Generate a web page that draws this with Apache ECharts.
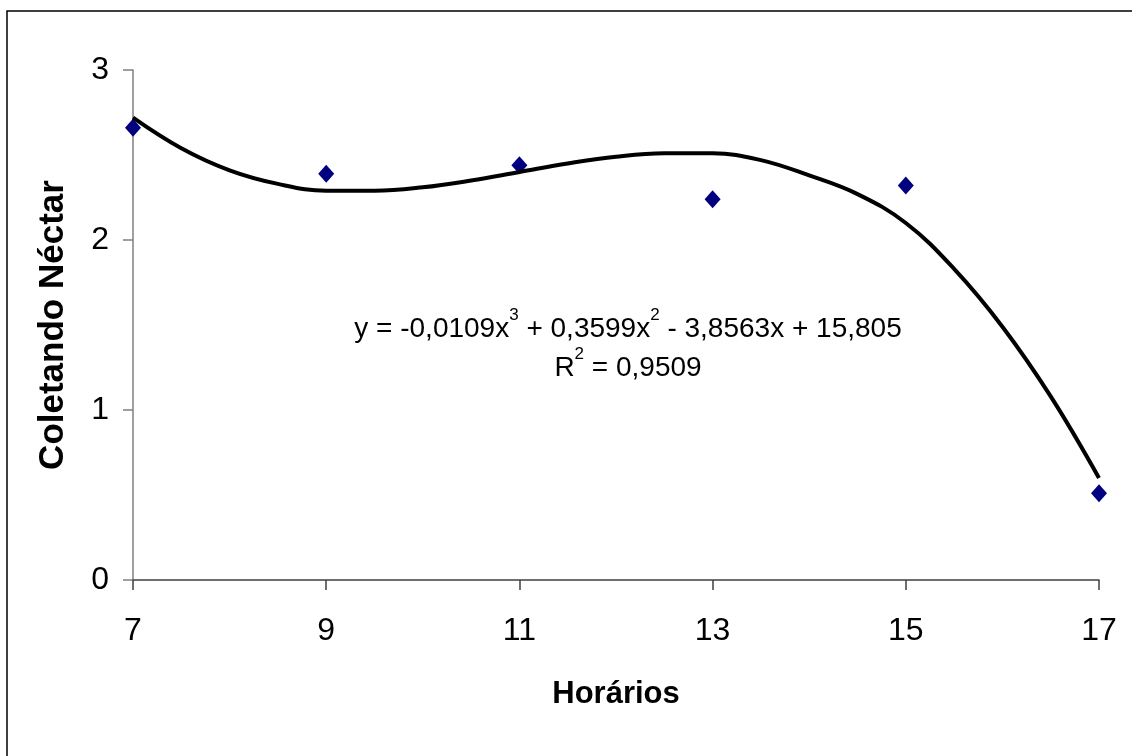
<!DOCTYPE html>
<html>
<head>
<meta charset="utf-8">
<script src="https://cdn.jsdelivr.net/npm/echarts@6/dist/echarts.min.js"></script>
<style>
  html, body { margin: 0; padding: 0; background: #fff; }
  #chart { width: 1132px; height: 756px; }
</style>
</head>
<body>
<div id="chart"></div>
<script>
// pontos observados
const hours = [7, 9, 11, 13, 15, 17]
const nectar = [2.66, 2.39, 2.44, 2.24, 2.32, 0.51]

// linha de tendência
const trendX = [7, 7.5, 8, 8.5, 9, 9.5, 10, 10.5, 11, 11.5, 12, 12.5, 13, 13.5, 14, 14.5, 15, 15.5, 16, 16.5, 17]
const trendY = [2.72, 2.54, 2.41, 2.33, 2.29, 2.29, 2.31, 2.35, 2.40, 2.45, 2.49, 2.51, 2.51, 2.47, 2.38, 2.27, 2.10, 1.83, 1.49, 1.08, 0.60]

// ticks
const xTicks = [7, 9, 11, 13, 15, 17]
const yTicks = [0, 1, 2, 3]

const font = "'Liberation Sans', Arial, sans-serif"

var chart = echarts.init(document.getElementById('chart'))

var eqRich = {
  n: { fontFamily: font, fontSize: 28, color: '#000', lineHeight: 36, verticalAlign: 'bottom' },
  s: { fontFamily: font, fontSize: 17, color: '#000', lineHeight: 36, verticalAlign: 'top' }
}

chart.setOption({
  animation: false,
  backgroundColor: '#fff',
  grid: {
    left: 133,
    right: 33,
    top: 70,
    bottom: 176
  },
  xAxis: {
    type: 'value',
    min: 7,
    max: 17,
    interval: 1,
    name: 'Horários',
    nameLocation: 'middle',
    nameGap: 99,
    nameTextStyle: { fontFamily: font, fontSize: 31, fontWeight: 'bold', color: '#000', verticalAlign: 'top' },
    axisLine: { show: true, lineStyle: { color: '#404040', width: 1.5 } },
    axisTick: { show: true, length: 10, customValues: xTicks, lineStyle: { color: '#404040', width: 1.5 } },
    axisLabel: { customValues: xTicks, margin: 35, fontFamily: font, fontSize: 32, color: '#000' },
    splitLine: { show: false }
  },
  yAxis: {
    type: 'value',
    min: 0,
    max: 3,
    interval: 1,
    name: 'Coletando Néctar',
    nameLocation: 'middle',
    nameGap: 62,
    nameTextStyle: { fontFamily: font, fontSize: 35, fontWeight: 'bold', color: '#000' },
    axisLine: { show: true, lineStyle: { color: '#808080', width: 1.5 } },
    axisTick: { show: true, length: 10, customValues: yTicks, lineStyle: { color: '#808080', width: 1.5 } },
    axisLabel: { customValues: yTicks, margin: 24, fontFamily: font, fontSize: 32, color: '#000' },
    splitLine: { show: false }
  },
  graphic: [
    {
      // moldura (só esquerda e topo aparecem)
      type: 'rect',
      shape: { x: 7, y: 11, width: 1300, height: 900 },
      style: { fill: 'none', stroke: '#000', lineWidth: 1.5 },
      silent: true
    },
    {
      type: 'text',
      x: 628,
      y: 325,
      style: {
        text: '{n|y = -0,0109x}{s|3}{n| + 0,3599x}{s|2}{n| - 3,8563x + 15,805}',
        align: 'center',
        verticalAlign: 'middle',
        rich: eqRich
      },
      silent: true
    },
    {
      type: 'text',
      x: 628,
      y: 364,
      style: {
        text: '{n|R}{s|2}{n| = 0,9509}',
        align: 'center',
        verticalAlign: 'middle',
        rich: eqRich
      },
      silent: true
    }
  ],
  series: [
    {
      name: 'Coletando Néctar',
      type: 'scatter',
      symbol: 'diamond',
      symbolSize: [16, 18],
      itemStyle: { color: '#000080', opacity: 1 },
      data: hours.map((h, i) => [h, nectar[i]])
    },
    {
      name: 'Tendência',
      type: 'line',
      smooth: 0.4,
      showSymbol: false,
      symbol: 'none',
      lineStyle: { color: '#000', width: 4 },
      data: trendX.map((h, i) => [h, trendY[i]])
    }
  ]
})
</script>
</body>
</html>
